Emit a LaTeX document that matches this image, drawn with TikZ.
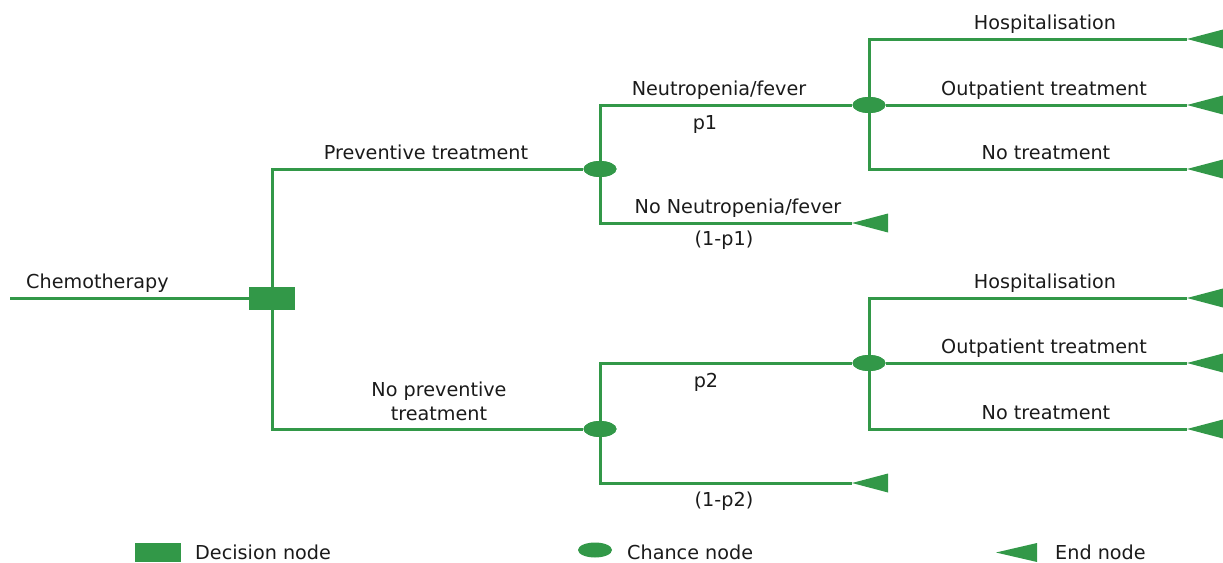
\documentclass[tikz,border=0pt]{standalone}
\usepackage{fontspec}
\setmainfont{DejaVu Sans}
\usetikzlibrary{shapes.geometric}
\definecolor{treegreen}{RGB}{50,152,72}
\definecolor{labelink}{RGB}{26,26,26}
\begin{document}
\begin{tikzpicture}[x=1pt,y=-1pt,
  branch/.style={draw=treegreen,line width=3pt},
  decision/.style={rectangle,fill=treegreen,inner sep=0pt,minimum width=46pt,minimum height=23pt},
  chance/.style={ellipse,fill=treegreen,inner sep=0pt,minimum width=33pt,minimum height=16pt},
  lbl/.style={inner sep=0pt,anchor=base,text=labelink,font=\fontsize{19.2}{24}\selectfont},
  endtri/.pic={\fill[treegreen] (0,0) -- (36,-9.5) -- (36,9.5) -- cycle;},
  endleg/.pic={\fill[treegreen] (0,0) -- (41,-9.5) -- (41,9.5) -- cycle;}
]
\useasboundingbox (0,0) rectangle (1223,562);

% decision and chance nodes
\node[decision] (dec) at (272,298.5) {};
\node[chance] (c1) at (600,169) {};
\node[chance] (c2) at (869,105) {};
\node[chance] (c3) at (600,429) {};
\node[chance] (c4) at (869,363) {};

% start of the tree and end points
\coordinate (root) at (10,298.5);
\coordinate (e1) at (1187,39);
\coordinate (e2) at (1187,105);
\coordinate (e3) at (1187,169);
\coordinate (e4) at (852,223);
\coordinate (e5) at (1187,298);
\coordinate (e6) at (1187,363);
\coordinate (e7) at (1187,429);
\coordinate (e8) at (852,483);

% branches
\draw[branch] (root) -- (dec);
\draw[branch] (dec.center) |- (c1);
\draw[branch] (dec.center) |- (c3);
\draw[branch] (c1.center) |- (c2);
\draw[branch] (c1.center) |- (e4);
\draw[branch] (c2.center) |- (e1);
\draw[branch] (c2) -- (e2);
\draw[branch] (c2.center) |- (e3);
\draw[branch] (c3.center) |- (c4);
\draw[branch] (c3.center) |- (e8);
\draw[branch] (c4.center) |- (e5);
\draw[branch] (c4) -- (e6);
\draw[branch] (c4.center) |- (e7);

% redraw nodes on top of the branches
\node[decision] at (dec) {};
\foreach \c in {c1,c2,c3,c4} \node[chance] at (\c) {};
\foreach \e in {e1,e2,e3,e4,e5,e6,e7,e8} \pic at (\e) {endtri};

% labels
\node[lbl,anchor=base west] (lchemo) at (26,288) {Chemotherapy};
\node[lbl] (lprev) at (426,159) {Preventive treatment};
\node[lbl,align=center] (lnoprev) at (439,420) {No preventive\\treatment};
\node[lbl] (lneu1) at (719,95) {Neutropenia/fever};
\node[lbl] (lp1) at (705,129) {p1};
\node[lbl] (lnoneu1) at (738,213) {No Neutropenia/fever};
\node[lbl] (lq1) at (724,245) {(1-p1)};
\node[lbl] (lp2) at (706,387) {p2};
\node[lbl] (lq2) at (724,506) {(1-p2)};
\node[lbl] (lh1) at (1045,29) {Hospitalisation};
\node[lbl] (lo1) at (1044,95) {Outpatient treatment};
\node[lbl] (ln1) at (1046,159) {No treatment};
\node[lbl] (lh2) at (1045,288) {Hospitalisation};
\node[lbl] (lo2) at (1044,353) {Outpatient treatment};
\node[lbl] (ln2) at (1046,419) {No treatment};

% legend
\node[decision,minimum height=19pt] (kdec) at (158,552.5) {};
\node[lbl,anchor=base west] (kdect) at (195,559) {Decision node};
\node[chance,minimum width=34pt,minimum height=15pt] (kch) at (595,550) {};
\node[lbl,anchor=base west] (kcht) at (627,559) {Chance node};
\coordinate (kend) at (996,552.5);
\pic at (kend) {endleg};
\node[lbl,anchor=base west] (kendt) at (1055,559) {End node};
\end{tikzpicture}
\end{document}
